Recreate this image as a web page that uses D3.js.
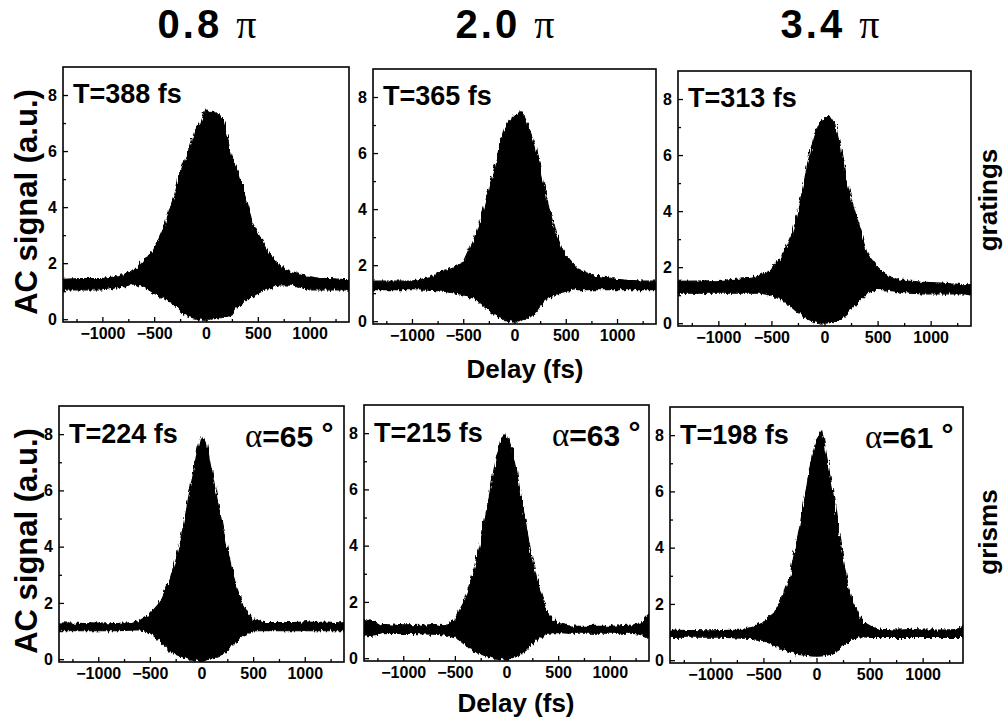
<!DOCTYPE html>
<html>
<head>
<meta charset="utf-8">
<script src="https://cdn.jsdelivr.net/npm/d3@7"></script>
<style>
  body { margin: 0; background: #fff; }
  text { font-family: "Liberation Sans", Arial, sans-serif; font-weight: bold; fill: #000; }
  .greek { font-family: "Liberation Serif", "Times New Roman", serif; font-weight: normal; }
</style>
</head>
<body>
<script type="text/javascript">

var delays = [-1400, -1200, -1000, -900, -800, -700, -600, -500, -400, -300, -250, -200, -150, -100, -50,
	0, 50, 100, 150, 200, 250, 300, 350, 400, 450, 500, 600, 700, 800, 900, 1000, 1100, 1200, 1300, 1400];

// upper / lower envelope of the AC fringes, one pair per panel
var upper1 = [1.42, 1.45, 1.46, 1.5, 1.58, 1.7, 2.06, 2.5, 3.3, 4.5, 5.2, 5.7, 6.2, 6.8, 7.0,
	7.5, 7.35, 7.4, 7.2, 6.6, 5.7, 5.3, 4.7, 4.1, 3.4, 3.1, 2.4, 1.95, 1.7, 1.58, 1.52, 1.45, 1.45, 1.42, 1.4];
var lower1 = [1.05, 1.05, 1.05, 1.1, 1.17, 1.26, 1.17, 0.93, 0.75, 0.5, 0.3, 0.15, 0.08, 0.04, 0.0,
	0.0, 0.0, 0.03, 0.06, 0.1, 0.15, 0.4, 0.55, 0.7, 0.82, 0.93, 1.1, 1.22, 1.22, 1.14, 1.05, 1.05, 1.05, 1.05, 1.05];

var upper2 = [1.43, 1.43, 1.43, 1.5, 1.6, 1.79, 1.9, 2.08, 2.86, 4.0, 4.7, 5.4, 6.15, 6.85, 7.15,
	7.3, 7.5, 7.26, 6.8, 6.25, 5.45, 4.6, 3.85, 3.15, 2.7, 2.32, 1.9, 1.73, 1.6, 1.55, 1.49, 1.46, 1.44, 1.43, 1.43];
var lower2 = [1.13, 1.13, 1.13, 1.12, 1.1, 1.07, 1.02, 0.95, 0.83, 0.54, 0.38, 0.24, 0.13, 0.06, 0.02,
	0.0, 0.02, 0.06, 0.15, 0.3, 0.55, 0.77, 0.88, 0.95, 1.02, 1.07, 1.13, 1.13, 1.13, 1.13, 1.13, 1.13, 1.13, 1.13, 1.13];

var upper3 = [1.49, 1.5, 1.52, 1.55, 1.57, 1.6, 1.69, 1.9, 2.38, 3.2, 4.0, 4.88, 5.8, 6.67, 7.14,
	7.32, 7.38, 7.08, 6.3, 5.12, 4.45, 3.8, 3.1, 2.5, 2.2, 1.96, 1.67, 1.55, 1.5, 1.47, 1.45, 1.43, 1.4, 1.38, 1.37];
var lower3 = [1.07, 1.07, 1.07, 1.07, 1.07, 1.07, 1.07, 1.0, 0.83, 0.54, 0.38, 0.24, 0.13, 0.06, 0.02,
	0.0, 0.02, 0.06, 0.15, 0.3, 0.5, 0.71, 0.9, 1.07, 1.15, 1.21, 1.19, 1.12, 1.07, 1.05, 1.05, 1.05, 1.05, 1.05, 1.0];

var upper4 = [1.29, 1.27, 1.25, 1.26, 1.27, 1.29, 1.37, 1.6, 2.02, 2.86, 3.5, 4.3, 5.2, 6.2, 7.2,
	7.98, 7.6, 6.67, 5.7, 4.76, 3.9, 3.1, 2.45, 1.9, 1.6, 1.43, 1.31, 1.3, 1.3, 1.3, 1.33, 1.3, 1.32, 1.3, 1.29];
var lower4 = [1.01, 1.01, 1.01, 1.01, 1.01, 1.03, 1.05, 0.95, 0.65, 0.3, 0.18, 0.1, 0.04, 0.0, -0.03,
	-0.05, -0.03, 0.02, 0.08, 0.18, 0.32, 0.48, 0.66, 0.83, 0.95, 1.01, 1.01, 1.01, 1.01, 1.01, 1.01, 1.01, 1.01, 1.01, 1.01];

var upper5 = [1.4, 1.2, 1.15, 1.16, 1.18, 1.19, 1.15, 1.37, 2.08, 3.27, 4.1, 5.06, 6.1, 7.08, 7.8,
	8.0, 7.44, 6.6, 5.5, 4.46, 3.5, 2.68, 2.1, 1.6, 1.38, 1.23, 1.15, 1.13, 1.13, 1.13, 1.13, 1.15, 1.18, 1.25, 1.65];
var lower5 = [0.77, 0.87, 0.89, 0.88, 0.86, 0.85, 0.83, 0.77, 0.48, 0.24, 0.15, 0.08, 0.03, 0.0, -0.02,
	-0.03, 0.0, 0.06, 0.18, 0.36, 0.52, 0.68, 0.8, 0.89, 0.91, 0.92, 0.89, 0.89, 0.89, 0.89, 0.89, 0.89, 0.89, 0.85, 0.7];

var upper6 = [1.07, 1.05, 1.04, 1.05, 1.06, 1.07, 1.19, 1.37, 1.67, 2.38, 3.0, 3.93, 4.9, 5.95, 7.14,
	7.86, 8.15, 7.14, 6.07, 4.76, 3.6, 2.62, 2.0, 1.55, 1.32, 1.19, 1.1, 1.08, 1.07, 1.1, 1.07, 1.07, 1.07, 1.09, 1.2];
var lower6 = [0.81, 0.82, 0.83, 0.82, 0.8, 0.78, 0.77, 0.69, 0.54, 0.36, 0.3, 0.24, 0.2, 0.18, 0.15,
	0.14, 0.15, 0.18, 0.25, 0.36, 0.5, 0.65, 0.75, 0.83, 0.83, 0.81, 0.81, 0.81, 0.81, 0.81, 0.81, 0.81, 0.81, 0.81, 0.81];

var uppers = [upper1, upper2, upper3, upper4, upper5, upper6],
	lowers = [lower1, lower2, lower3, lower4, lower5, lower6];

var phases = ["0.8", "2.0", "3.4"];          // column titles (x pi)
var pulseWidths = [388, 365, 313, 224, 215, 198];  // T (fs)
var grismAngles = [65, 63, 61];              // alpha (deg), bottom row
var rowLabels = ["gratings", "grisms"];

var xTicks = [-1000, -500, 0, 500, 1000],
	xMinor = [-1250, -750, -250, 250, 750, 1250],
	yTicks = [0, 2, 4, 6, 8],
	yMinor = [1, 3, 5, 7];

// layout of the six frames
var panels = [
	{x: 63,  y: 67,  w: 286, h: 255},
	{x: 373, y: 69,  w: 283, h: 255},
	{x: 678, y: 71,  w: 293, h: 255},
	{x: 59,  y: 406, w: 285, h: 256},
	{x: 364, y: 405, w: 285, h: 256},
	{x: 670, y: 407, w: 293, h: 256}
];

var svg = d3.select("body")
  .append("svg")
	.attr("width", 1008)
	.attr("height", 726);

// rough edge texture for the dense fringe fill
var filt = svg.append("defs").append("filter")
	.attr("id", "rough")
	.attr("x", "-5%").attr("y", "-5%")
	.attr("width", "110%").attr("height", "110%");
filt.append("feTurbulence")
	.attr("type", "fractalNoise")
	.attr("baseFrequency", "0.45 0.08")
	.attr("numOctaves", 2)
	.attr("seed", 3)
	.attr("result", "noise");
filt.append("feDisplacementMap")
	.attr("in", "SourceGraphic")
	.attr("in2", "noise")
	.attr("scale", 6)
	.attr("xChannelSelector", "R")
	.attr("yChannelSelector", "G");

// column titles
[207, 505, 830].forEach(function(cx, i) {
	var t = svg.append("text")
		.attr("x", cx)
		.attr("y", 38)
		.attr("text-anchor", "middle")
		.attr("font-size", 40);
	t.append("tspan").attr("letter-spacing", 3).text(phases[i] + " ");
	t.append("tspan").attr("class", "greek").text("π");
});

panels.forEach(function(p, i) {
	var x = d3.scaleLinear().domain([-1380, 1380]).range([0, p.w]);
	var y = d3.scaleLinear().domain([-0.1, 9]).range([p.h, 0]);

	var g = svg.append("g")
		.attr("transform", "translate(" + p.x + "," + p.y + ")");

	g.append("clipPath")
		.attr("id", "clip" + i)
	  .append("rect")
		.attr("width", p.w)
		.attr("height", p.h);

	var area = d3.area()
		.x(function(d, j) { return x(delays[j]); })
		.y0(function(d, j) { return y(lowers[i][j]); })
		.y1(function(d) { return y(d); });

	g.append("g")
		.attr("clip-path", "url(#clip" + i + ")")
	  .append("path")
		.datum(uppers[i])
		.attr("d", area)
		.attr("filter", "url(#rough)")
		.attr("fill", "#000")
		.attr("stroke", "#000")
		.attr("stroke-width", 1.2)
		.attr("stroke-linejoin", "round");

	// axes, ticks pointing inward
	g.append("g")
		.attr("transform", "translate(0," + p.h + ")")
		.call(d3.axisBottom(x).tickValues(xTicks).tickSize(-5).tickPadding(6).tickFormat(d3.format("d")));
	g.append("g")
		.attr("transform", "translate(0," + p.h + ")")
		.call(d3.axisBottom(x).tickValues(xMinor).tickSize(-3).tickFormat(""));
	g.append("g")
		.call(d3.axisLeft(y).tickValues(yTicks).tickSize(-5).tickPadding(6).tickFormat(d3.format("d")));
	g.append("g")
		.call(d3.axisLeft(y).tickValues(yMinor).tickSize(-3).tickFormat(""));

	g.selectAll(".domain").remove();
	g.selectAll(".tick line").attr("stroke", "#000").attr("stroke-width", 1.3);
	g.selectAll(".tick text")
		.attr("font-size", 16)
		.attr("font-family", "'Liberation Sans', Arial, sans-serif")
		.attr("font-weight", "bold");

	g.append("rect")
		.attr("width", p.w)
		.attr("height", p.h)
		.attr("fill", "none")
		.attr("stroke", "#000")
		.attr("stroke-width", 1.6);

	g.append("text")
		.attr("x", 10)
		.attr("y", i < 3 ? 36 : 37)
		.attr("font-size", 27)
		.text("T=" + pulseWidths[i] + " fs");

	if (i >= 3) {
		var a = g.append("text")
			.attr("x", [186, 188, 195][i - 3])
			.attr("y", 41)
			.attr("font-size", 30);
		a.append("tspan").attr("class", "greek").attr("font-size", 33).text("α");
		a.append("tspan").text("=" + grismAngles[i - 3] + " ");
		a.append("tspan").attr("dy", -3).text("°");
	}
});

// shared axis titles
[202, 541].forEach(function(cy) {
	svg.append("text")
		.attr("transform", "translate(37," + cy + ") rotate(-90)")
		.attr("text-anchor", "middle")
		.attr("font-size", 31)
		.text("AC signal (a.u.)");
});
[[525, 378], [516, 712]].forEach(function(d) {
	svg.append("text")
		.attr("x", d[0])
		.attr("y", d[1])
		.attr("text-anchor", "middle")
		.attr("font-size", 26)
		.text("Delay (fs)");
});
[200, 532].forEach(function(cy, i) {
	svg.append("text")
		.attr("transform", "translate(997," + cy + ") rotate(-90)")
		.attr("text-anchor", "middle")
		.attr("font-size", 26)
		.text(rowLabels[i]);
});

</script>
</body>
</html>
